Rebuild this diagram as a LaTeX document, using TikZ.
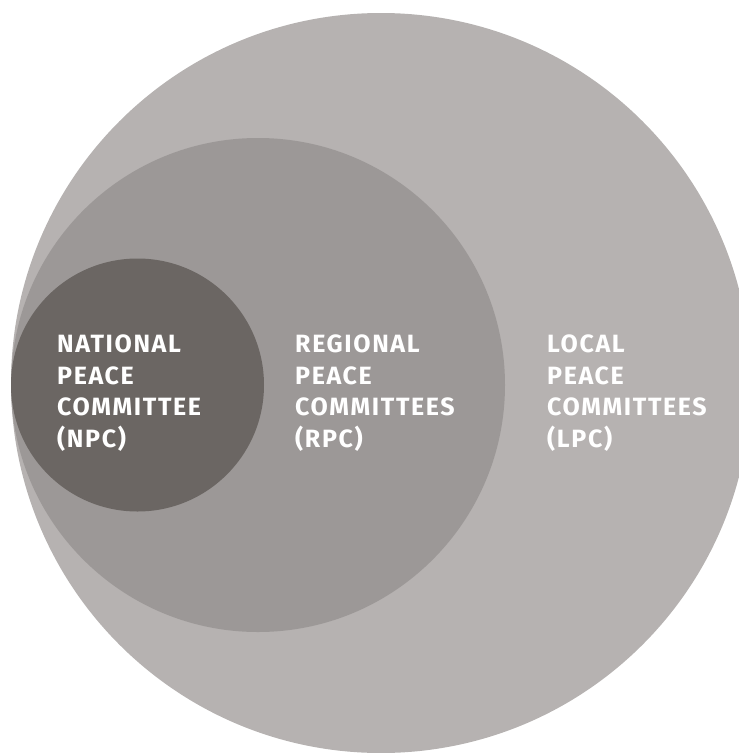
\documentclass[tikz,border=0pt]{standalone}
\usepackage{fontspec}
\setmainfont{Fira Sans}[LetterSpace=6.5]

\definecolor{lpcgray}{RGB}{182,178,177}
\definecolor{rpcgray}{RGB}{156,152,151}
\definecolor{npcgray}{RGB}{107,102,99}

\newcommand*{\picw}{739}
\newcommand*{\pich}{753}

\begin{document}
\begin{tikzpicture}
[
	x=1pt,y=-1pt,
	ring/.style={circle,inner sep=0pt,minimum size=#1},
	txt/.style={anchor=north west,inner sep=0pt,align=left,text=white,
		font=\fontsize{25}{31.5}\selectfont\bfseries}
]

	% page
	\useasboundingbox (0,0) rectangle (\picw,\pich);
	\clip (0,0) rectangle (\picw,\pich);

	% circles
	\node[ring=740pt,fill=lpcgray] (lpc) at (381,383) {};
	\node[ring=494pt,fill=rpcgray] (rpc) at (258,385) {};
	\node[ring=253pt,fill=npcgray] (npc) at (137.5,385) {};

	% labels
	\node[txt] (npctext) at (57,335) {NATIONAL\\PEACE\\COMMITTEE\\(NPC)};
	\node[txt] (rpctext) at (295,335) {REGIONAL\\PEACE\\COMMITTEES\\(RPC)};
	\node[txt] (lpctext) at (547,335) {LOCAL\\PEACE\\COMMITTEES\\(LPC)};

\end{tikzpicture}
\end{document}
